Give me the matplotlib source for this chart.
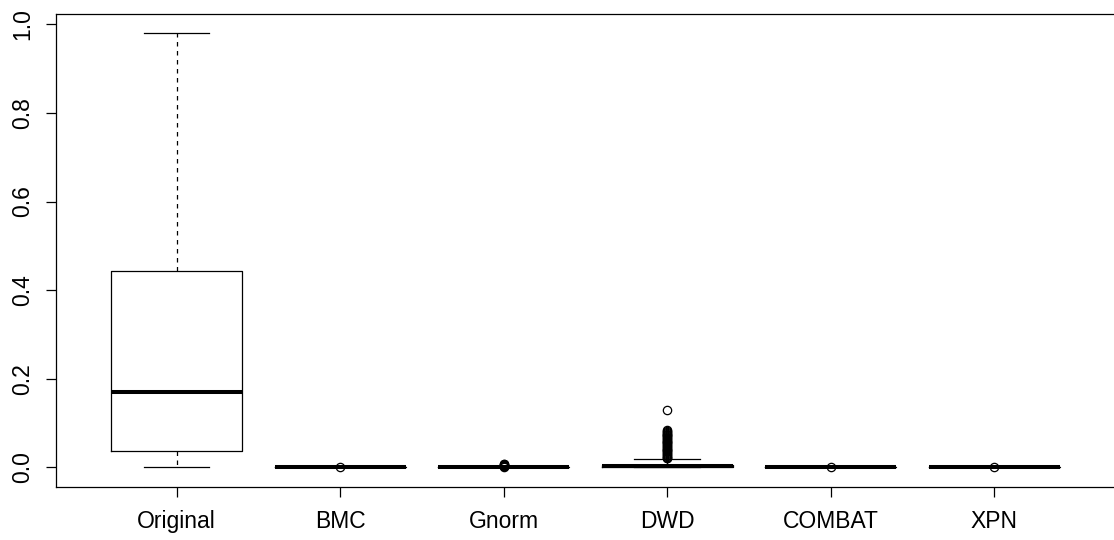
import matplotlib
matplotlib.use("Agg")
import matplotlib.pyplot as plt

# values
groups = ["Original", "BMC", "Gnorm", "DWD", "COMBAT", "XPN"]
whis_lo = [0.0, 0.0, 0.0, 0.0, 0.0, 0.0]
q1 = [0.036, 0.0, 0.0, 0.0005, 0.0, 0.0]
medians = [0.171, 0.0, 0.0, 0.002, 0.0, 0.0]
q3 = [0.443, 0.0005, 0.0005, 0.006, 0.0005, 0.0005]
whis_hi = [0.980, 0.0005, 0.0005, 0.018, 0.0005, 0.0005]

outliers_bmc = [0.0]
outliers_gnorm = [0.001, 0.002, 0.003, 0.004, 0.005, 0.006, 0.007, 0.008]
outliers_dwd = [0.020, 0.022, 0.024, 0.026, 0.028, 0.030, 0.032, 0.034,
                0.036, 0.038, 0.040, 0.042, 0.044, 0.046, 0.048, 0.050,
                0.052, 0.054, 0.056, 0.058, 0.060, 0.062, 0.064, 0.066,
                0.068, 0.070, 0.072, 0.074, 0.076, 0.078, 0.080, 0.082,
                0.084, 0.130]
outliers_combat = [0.0]
outliers_xpn = [0.0]
outliers = [[], outliers_bmc, outliers_gnorm, outliers_dwd, outliers_combat, outliers_xpn]

y_ticks = [0.0, 0.2, 0.4, 0.6, 0.8, 1.0]

plt.rcParams["font.family"] = ["Liberation Sans", "DejaVu Sans"]

W, H = 1114, 540
fig = plt.figure(figsize=(W / 100, H / 100), dpi=100)
# right spine sits just past the picture edge, as in the reference
x_left, step = 55.7, 163.5
ax = fig.add_axes([x_left / W, 1 - 487 / H, 6.48 * step / W, (487 - 14.3) / H])

stats = []
for i, g in enumerate(groups):
    stats.append({
        "label": g,
        "whislo": whis_lo[i],
        "q1": q1[i],
        "med": medians[i],
        "q3": q3[i],
        "whishi": whis_hi[i],
        "fliers": outliers[i],
    })

lw = 0.9
ax.bxp(
    stats,
    positions=range(1, len(groups) + 1),
    widths=0.8,
    capwidths=0.4,
    showfliers=True,
    boxprops=dict(color="black", linewidth=lw),
    medianprops=dict(color="black", linewidth=2.9, solid_capstyle="butt"),
    whiskerprops=dict(color="black", linewidth=lw, linestyle=(0, (3.6, 3.6))),
    capprops=dict(color="black", linewidth=lw),
    flierprops=dict(marker="o", markersize=6, markerfacecolor="none",
                    markeredgecolor="black", markeredgewidth=0.9),
)

ax.set_xlim(0.26, 6.74)
ax.set_ylim(-0.0445, 1.0226)
ax.set_yticks(y_ticks)
ax.set_yticklabels([f"{v:.1f}" for v in y_ticks], rotation=90, va="center")
ax.tick_params(axis="both", labelsize=16.5, length=7.5, width=0.9, colors="black")
ax.tick_params(axis="y", pad=8)
ax.tick_params(axis="x", pad=9)
for s in ax.spines.values():
    s.set_linewidth(0.9)
ax.spines["right"].set_visible(False)

fig.savefig("out.png", dpi=100)
